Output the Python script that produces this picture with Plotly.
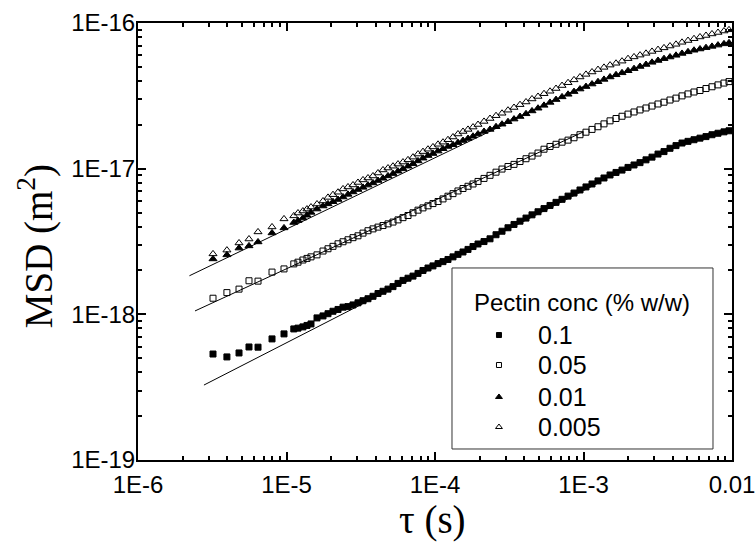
import plotly.graph_objects as go

# ---------------- data ----------------
tau = [3.20e-6, 3.97e-6, 4.79e-6, 5.59e-6, 6.43e-6, 7.99e-6, 9.62e-6,
       1.12e-5, 1.195e-5, 1.29e-5, 1.374e-5, 1.462e-5, 1.605e-5, 1.762e-5,
       1.903e-5, 2.056e-5, 2.223e-5, 2.402e-5, 2.595e-5, 2.804e-5, 3.03e-5, 3.275e-5,
       3.538e-5, 3.824e-5, 4.132e-5, 4.465e-5, 4.825e-5, 5.214e-5, 5.634e-5, 6.088e-5,
       6.579e-5, 7.11e-5, 7.683e-5, 8.30e-5, 8.97e-5, 9.69e-5, 1.048e-4, 1.132e-4,
       1.223e-4, 1.322e-4, 1.428e-4, 1.544e-4, 1.668e-4, 1.803e-4, 1.948e-4,
       2.138e-4, 2.347e-4, 2.576e-4, 2.826e-4, 3.101e-4, 3.404e-4, 3.736e-4, 4.10e-4,
       4.50e-4, 4.94e-4, 5.42e-4, 5.95e-4, 6.53e-4, 7.17e-4, 7.87e-4, 8.63e-4, 9.47e-4,
       1.039e-3, 1.141e-3, 1.252e-3, 1.374e-3, 1.509e-3, 1.656e-3, 1.817e-3, 1.994e-3,
       2.189e-3, 2.402e-3, 2.636e-3, 2.893e-3, 3.175e-3, 3.484e-3, 3.824e-3, 4.197e-3,
       4.606e-3, 5.055e-3, 5.548e-3, 6.088e-3, 6.681e-3, 7.333e-3, 8.047e-3, 8.832e-3,
       9.546e-3]

msd_0_1 = [5.34e-19, 5.10e-19, 5.43e-19, 5.97e-19, 5.95e-19, 6.78e-19, 7.34e-19,
           7.94e-19, 8.04e-19, 8.20e-19, 8.39e-19, 8.59e-19, 9.45e-19, 9.75e-19,
           1.01e-18, 1.05e-18, 1.08e-18, 1.12e-18, 1.13e-18, 1.16e-18, 1.20e-18, 1.24e-18,
           1.28e-18, 1.33e-18, 1.39e-18, 1.44e-18, 1.49e-18, 1.55e-18, 1.63e-18, 1.71e-18,
           1.77e-18, 1.83e-18, 1.91e-18, 2.00e-18, 2.08e-18, 2.15e-18, 2.23e-18, 2.30e-18,
           2.38e-18, 2.48e-18, 2.58e-18, 2.68e-18, 2.79e-18, 2.92e-18, 3.04e-18,
           3.16e-18, 3.30e-18, 3.52e-18, 3.72e-18, 3.93e-18, 4.14e-18, 4.36e-18, 4.58e-18,
           4.82e-18, 5.06e-18, 5.32e-18, 5.59e-18, 5.87e-18, 6.16e-18, 6.48e-18, 6.80e-18,
           7.14e-18, 7.49e-18, 7.85e-18, 8.24e-18, 8.63e-18, 9.05e-18, 9.42e-18, 9.78e-18,
           1.02e-17, 1.06e-17, 1.10e-17, 1.15e-17, 1.20e-17, 1.26e-17, 1.31e-17, 1.38e-17,
           1.44e-17, 1.50e-17, 1.54e-17, 1.58e-17, 1.62e-17, 1.66e-17, 1.71e-17, 1.75e-17,
           1.79e-17, 1.82e-17]

msd_0_05 = [1.29e-18, 1.41e-18, 1.49e-18, 1.70e-18, 1.69e-18, 1.95e-18, 2.05e-18,
            2.22e-18, 2.28e-18, 2.36e-18, 2.42e-18, 2.48e-18, 2.56e-18, 2.72e-18,
            2.82e-18, 2.93e-18, 3.05e-18, 3.15e-18, 3.25e-18, 3.36e-18, 3.46e-18, 3.61e-18,
            3.75e-18, 3.86e-18, 3.97e-18, 4.07e-18, 4.18e-18, 4.30e-18, 4.45e-18, 4.61e-18,
            4.77e-18, 4.98e-18, 5.19e-18, 5.38e-18, 5.56e-18, 5.76e-18, 5.95e-18, 6.20e-18,
            6.47e-18, 6.74e-18, 7.03e-18, 7.31e-18, 7.57e-18, 7.85e-18, 8.17e-18,
            8.57e-18, 9.00e-18, 9.46e-18, 9.94e-18, 1.035e-17, 1.07e-17, 1.12e-17, 1.17e-17,
            1.22e-17, 1.28e-17, 1.36e-17, 1.42e-17, 1.47e-17, 1.52e-17, 1.57e-17, 1.63e-17,
            1.71e-17, 1.78e-17, 1.86e-17, 1.94e-17, 2.03e-17, 2.13e-17, 2.21e-17, 2.29e-17,
            2.37e-17, 2.45e-17, 2.53e-17, 2.61e-17, 2.69e-17, 2.78e-17, 2.86e-17, 2.96e-17,
            3.05e-17, 3.16e-17, 3.26e-17, 3.36e-17, 3.44e-17, 3.55e-17, 3.65e-17, 3.76e-17,
            3.87e-17, 3.96e-17]

msd_0_01 = [2.40e-18, 2.56e-18, 2.85e-18, 2.95e-18, 3.14e-18, 3.62e-18, 3.92e-18,
            4.27e-18, 4.40e-18, 4.58e-18, 4.79e-18, 5.01e-18, 5.28e-18, 5.54e-18,
            5.73e-18, 5.93e-18, 6.14e-18, 6.39e-18, 6.66e-18, 6.92e-18, 7.19e-18, 7.44e-18,
            7.71e-18, 7.98e-18, 8.29e-18, 8.59e-18, 8.92e-18, 9.25e-18, 9.61e-18, 9.97e-18,
            1.04e-17, 1.08e-17, 1.13e-17, 1.18e-17, 1.23e-17, 1.27e-17, 1.32e-17, 1.37e-17,
            1.42e-17, 1.46e-17, 1.51e-17, 1.56e-17, 1.61e-17, 1.67e-17, 1.73e-17,
            1.80e-17, 1.86e-17, 1.94e-17, 2.02e-17, 2.10e-17, 2.19e-17, 2.28e-17, 2.38e-17,
            2.49e-17, 2.60e-17, 2.72e-17, 2.85e-17, 2.98e-17, 3.11e-17, 3.24e-17, 3.38e-17,
            3.52e-17, 3.66e-17, 3.81e-17, 3.95e-17, 4.10e-17, 4.26e-17, 4.41e-17, 4.55e-17,
            4.70e-17, 4.86e-17, 5.03e-17, 5.19e-17, 5.37e-17, 5.53e-17, 5.69e-17, 5.84e-17,
            6.00e-17, 6.18e-17, 6.34e-17, 6.50e-17, 6.63e-17, 6.77e-17, 6.91e-17, 7.05e-17,
            7.19e-17, 7.31e-17]

msd_0_005 = [2.60e-18, 2.76e-18, 3.09e-18, 3.29e-18, 3.68e-18, 3.98e-18, 4.52e-18,
             4.74e-18, 4.96e-18, 5.12e-18, 5.28e-18, 5.45e-18, 5.72e-18, 6.00e-18,
             6.35e-18, 6.63e-18, 6.89e-18, 7.26e-18, 7.49e-18, 7.73e-18, 8.04e-18, 8.37e-18,
             8.63e-18, 8.91e-18, 9.34e-18, 9.80e-18, 1.01e-17, 1.04e-17, 1.075e-17, 1.11e-17,
             1.15e-17, 1.20e-17, 1.26e-17, 1.31e-17, 1.36e-17, 1.41e-17, 1.47e-17, 1.52e-17,
             1.58e-17, 1.65e-17, 1.73e-17, 1.80e-17, 1.86e-17, 1.93e-17, 2.01e-17,
             2.11e-17, 2.21e-17, 2.31e-17, 2.40e-17, 2.52e-17, 2.63e-17, 2.75e-17, 2.87e-17,
             3.01e-17, 3.13e-17, 3.27e-17, 3.40e-17, 3.55e-17, 3.72e-17, 3.89e-17, 4.07e-17,
             4.26e-17, 4.44e-17, 4.61e-17, 4.79e-17, 4.96e-17, 5.14e-17, 5.29e-17, 5.47e-17,
             5.69e-17, 5.85e-17, 6.02e-17, 6.19e-17, 6.38e-17, 6.57e-17, 6.75e-17, 6.95e-17,
             7.14e-17, 7.37e-17, 7.58e-17, 7.80e-17, 8.02e-17, 8.21e-17, 8.41e-17, 8.61e-17,
             8.81e-17, 8.98e-17]

# power-law fit lines (end points)
fit_tau_0_1 = [2.78e-6, 1.3e-3]
fit_msd_0_1 = [3.27e-19, 8.1e-18]
fit_tau_0_05 = [2.42e-6, 1.0e-3]
fit_msd_0_05 = [1.055e-18, 1.79e-17]
fit_tau_0_01 = [2.22e-6, 1.0e-3]
fit_msd_0_01 = [1.84e-18, 3.67e-17]

legend_title = "Pectin conc (% w/w)"
series_names = ["0.1", "0.05", "0.01", "0.005"]
series_values = [msd_0_1, msd_0_05, msd_0_01, msd_0_005]
series_symbols = ["square", "square-open", "triangle-up", "triangle-up-open"]
series_sizes = [6, 6, 7, 7]
legend_sizes = [5, 5, 6, 6]

x_tickvals = [1e-6, 1e-5, 1e-4, 1e-3, 1e-2]
x_ticktext = ["1E-6", "1E-5", "1E-4", "1E-3", "0.01"]
y_tickvals = [1e-19, 1e-18, 1e-17, 1e-16]
y_ticktext = ["1E-19", "1E-18", "1E-17", "1E-16"]

x_minor = [k * 10.0 ** e for e in range(-6, -2) for k in range(2, 10)]
y_minor = [k * 10.0 ** e for e in range(-19, -16) for k in range(2, 10)]

# legend layout (paper fractions of the plot area)
leg_box = dict(x0=0.5286, x1=0.968, y0=0.0252, y1=0.4394)
leg_title_pos = (0.5623, 0.3593)
leg_symbol_x = 0.6077
leg_text_x = 0.6700
leg_rows_y = [0.2860, 0.2174, 0.1442, 0.0755]

SANS = "Liberation Sans, Arial, sans-serif"
SERIF = "Liberation Serif, Times New Roman, serif"

# ---------------- figure ----------------
fig = go.Figure()

for ft, fm in [(fit_tau_0_1, fit_msd_0_1), (fit_tau_0_05, fit_msd_0_05),
               (fit_tau_0_01, fit_msd_0_01)]:
    fig.add_trace(go.Scatter(x=ft, y=fm, mode="lines",
                             line=dict(color="black", width=1),
                             showlegend=False, hoverinfo="skip"))

for name, vals, sym, sz in zip(series_names, series_values, series_symbols, series_sizes):
    fig.add_trace(go.Scatter(x=tau, y=vals, mode="markers", name=name,
                             marker=dict(symbol=sym, size=sz, color="black",
                                         line=dict(color="black", width=1)),
                             showlegend=False))

# legend frame
fig.add_shape(type="rect", xref="paper", yref="paper", **leg_box,
              line=dict(color="#333333", width=1), fillcolor="white", layer="below")
fig.add_annotation(text=legend_title, xref="paper", yref="paper",
                   x=leg_title_pos[0], y=leg_title_pos[1],
                   xanchor="left", yanchor="middle", showarrow=False,
                   font=dict(family=SANS, size=24, color="black"))

# legend entries: symbol glyph on an overlay axis spanning the plot area + text
for name, sym, lsz, ry in zip(series_names, series_symbols, legend_sizes, leg_rows_y):
    fig.add_trace(go.Scatter(x=[leg_symbol_x], y=[ry], xaxis="x2", yaxis="y2",
                             mode="markers", name=name, showlegend=False,
                             hoverinfo="skip",
                             marker=dict(symbol=sym, size=lsz, color="black",
                                         line=dict(color="black", width=1))))
    fig.add_annotation(text=name, xref="paper", yref="paper", x=leg_text_x, y=ry,
                       xanchor="left", yanchor="middle", showarrow=False,
                       font=dict(family=SANS, size=25, color="black"))

# axis titles
fig.add_annotation(text="τ (s)", xref="paper", yref="paper", x=0.4966, y=-0.1373,
                   xanchor="center", yanchor="middle", showarrow=False,
                   font=dict(family=SERIF, size=39, color="black"))
fig.add_annotation(text="MSD (m<sup>2</sup>)", xref="paper", yref="paper",
                   x=-0.173, y=0.4897, textangle=-90,
                   xanchor="center", yanchor="middle", showarrow=False,
                   font=dict(family=SERIF, size=39, color="black"))

axis_common = dict(
    type="log", showgrid=False, zeroline=False, automargin=False,
    showline=True, linecolor="black", linewidth=2, mirror="ticks",
    ticks="inside", ticklen=8, tickwidth=1.5, tickcolor="black",
    ticklabeloverflow="allow",
    tickfont=dict(family=SANS, size=24, color="black"),
)

fig.update_layout(
    width=755, height=542,
    margin=dict(l=138, r=23, t=23, b=82),
    paper_bgcolor="white", plot_bgcolor="white",
    showlegend=False,
    xaxis=dict(**axis_common, range=[-6, -2],
               tickvals=x_tickvals, ticktext=x_ticktext, ticklabelstandoff=2,
               minor=dict(ticks="inside", ticklen=4, tickwidth=1.5, tickcolor="black",
                          tickvals=x_minor, showgrid=False)),
    yaxis=dict(**axis_common, range=[-19, -16],
               tickvals=y_tickvals, ticktext=y_ticktext, ticklabelstandoff=-4,
               minor=dict(ticks="inside", ticklen=4, tickwidth=1.5, tickcolor="black",
                          tickvals=y_minor, showgrid=False)),
    xaxis2=dict(overlaying="x", anchor="y2", range=[0, 1], visible=False,
                fixedrange=True, automargin=False),
    yaxis2=dict(overlaying="y", anchor="x2", range=[0, 1], visible=False,
                fixedrange=True, automargin=False),
)

fig.write_html("out.html", config={"displayModeBar": False},
               post_script="document.body.style.margin='0';document.body.style.overflow='hidden';")
